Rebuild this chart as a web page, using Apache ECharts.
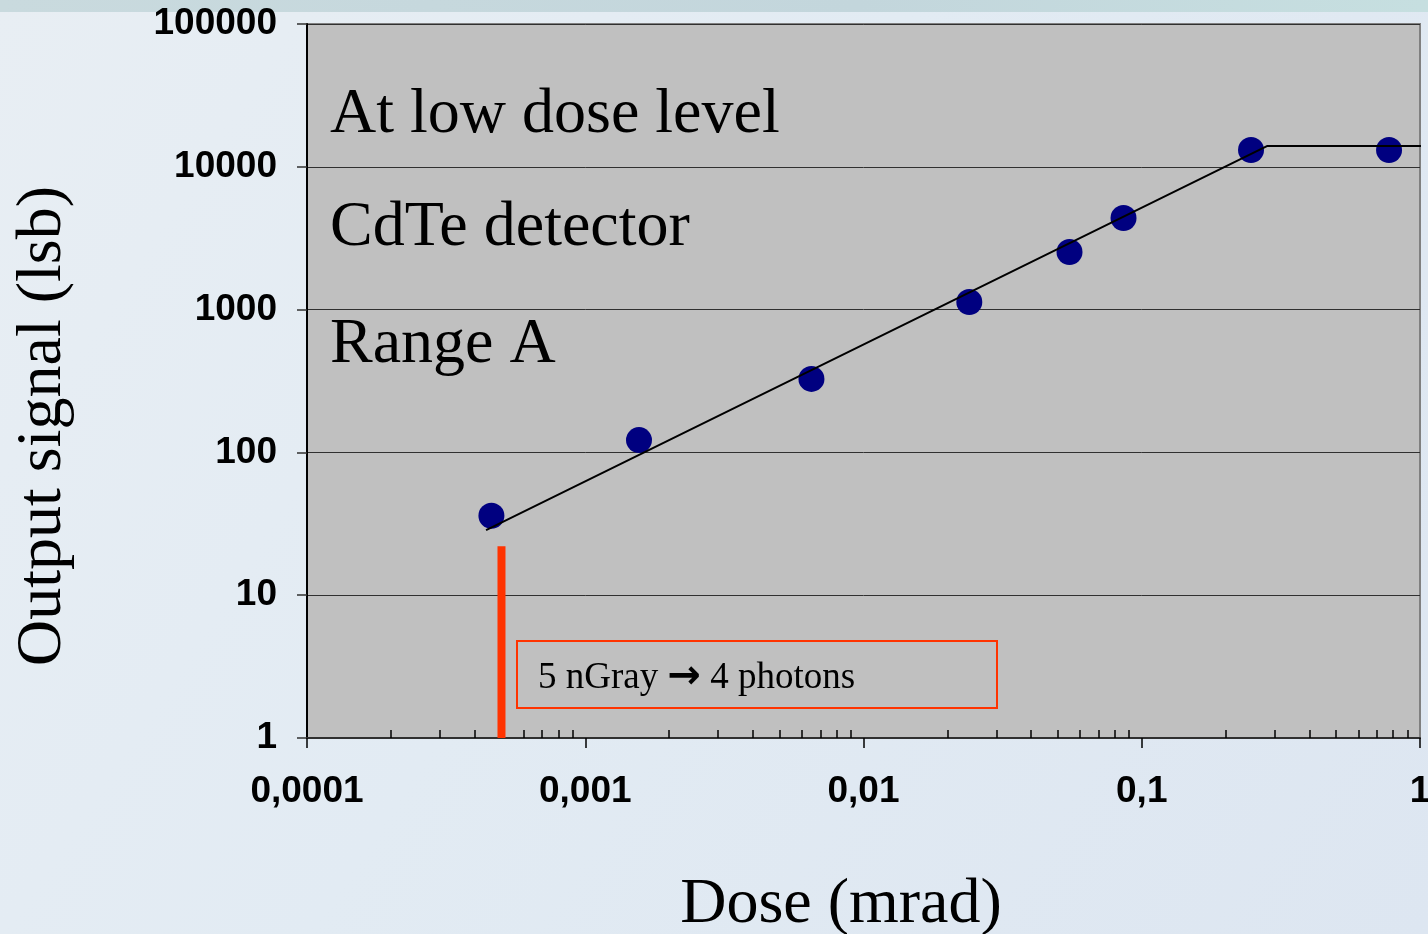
<!DOCTYPE html>
<html>
<head>
<meta charset="utf-8">
<title>CdTe detector – output signal vs dose</title>
<script src="https://cdn.jsdelivr.net/npm/echarts@6/dist/echarts.min.js"></script>
<style>
  html, body { margin: 0; padding: 0; }
  #chart { width: 1428px; height: 934px; }
</style>
</head>
<body>
<div id="chart"></div>
<script>
// Measured dose (mrad) and output signal (lsb)
const doseMrad = [0.00046, 0.00156, 0.0065, 0.024, 0.055, 0.086, 0.247, 0.774];
const signalLsb = [36, 122, 327, 1130, 2530, 4380, 13100, 13100];

// Linear-response fit with saturation plateau
const fitDose = [0.00044, 0.283, 1.07];
const fitSignal = [28.6, 14000, 14000];

// Detection threshold marker (5 nGray)
const thresholdDose = [0.0005, 0.0005];
const thresholdSignal = [1, 22];

// Axis tick labels, one per decade
const xTickLabels = ['0,0001', '0,001', '0,01', '0,1', '1'];
const yTickLabels = ['1', '10', '100', '1000', '10000', '100000'];

const pairs = (xs, ys) => xs.map((x, i) => [x, ys[i]]);

// Minor tick positions 2..9 within each dose decade
const minorTicks = [];
[0.0001, 0.001, 0.01, 0.1].forEach(d => {
  for (let k = 2; k <= 9; k++) minorTicks.push(d * k);
});

const decadeIndex = v => Math.round(Math.log10(v));

const chart = echarts.init(document.getElementById('chart'));

const tickFont = {
  fontFamily: '"Liberation Sans", Arial, sans-serif',
  fontWeight: 'bold',
  fontSize: 37,
  color: '#000'
};
const serif = '"Liberation Serif", "Times New Roman", serif';

chart.setOption({
  animation: false,
  backgroundColor: {
    type: 'linear', x: 0, y: 0, x2: 1, y2: 1,
    colorStops: [
      { offset: 0, color: '#e8eef3' },
      { offset: 0.45, color: '#e2ebf3' },
      { offset: 1, color: '#dde6f1' }
    ]
  },
  grid: {
    left: 307, right: 8, top: 24, bottom: 196,
    show: true,
    backgroundColor: '#c0c0c0',
    borderColor: '#808080',
    borderWidth: 2,
    outerBoundsMode: 'none',
    containLabel: false
  },
  xAxis: [
    {
      type: 'log',
      logBase: 10,
      min: 0.0001,
      max: 1,
      position: 'bottom',
      axisLine: { show: true, lineStyle: { color: '#303030', width: 2 } },
      axisTick: { show: true, inside: false, length: 10, lineStyle: { color: '#000', width: 1.5 } },
      axisLabel: {
        ...tickFont,
        margin: 35,
        formatter: v => xTickLabels[decadeIndex(v) + 4]
      },
      splitLine: { show: false }
    },
    {
      type: 'log',
      logBase: 10,
      min: 0.0001,
      max: 1,
      position: 'bottom',
      axisLine: { show: false },
      axisTick: {
        show: true, inside: true, length: 8,
        customValues: minorTicks,
        lineStyle: { color: '#000', width: 1.5 }
      },
      axisLabel: { show: false },
      splitLine: { show: false }
    }
  ],
  yAxis: {
    type: 'log',
    logBase: 10,
    min: 1,
    max: 100000,
    axisLine: { show: true, lineStyle: { color: '#000', width: 2 } },
    axisTick: { show: true, inside: false, length: 10, lineStyle: { color: '#303030', width: 1.5 } },
    axisLabel: {
      ...tickFont,
      margin: 30,
      padding: [4, 0, 0, 0],
      formatter: v => yTickLabels[decadeIndex(v)]
    },
    splitLine: { show: true, lineStyle: { color: '#303030', width: 1 } }
  },
  series: [
    {
      name: 'Threshold',
      type: 'line',
      data: pairs(thresholdDose, thresholdSignal),
      symbol: 'none',
      lineStyle: { color: '#ff3300', width: 8, cap: 'butt' },
      z: 3
    },
    {
      name: 'Measured',
      type: 'scatter',
      data: pairs(doseMrad, signalLsb),
      symbol: 'circle',
      symbolSize: 26,
      itemStyle: { color: '#000080', opacity: 1 },
      z: 4
    },
    {
      name: 'Fit',
      type: 'line',
      data: pairs(fitDose, fitSignal),
      symbol: 'none',
      clip: false,
      lineStyle: { color: '#000', width: 2 },
      z: 5
    }
  ],
  graphic: [
    // darker band across the top of the slide
    {
      type: 'rect', z: -10, silent: true,
      shape: { x: 0, y: 0, width: 1428, height: 12 },
      style: {
        fill: {
          type: 'linear', x: 0, y: 0, x2: 1, y2: 0,
          colorStops: [
            { offset: 0, color: '#c9dade' },
            { offset: 0.6, color: '#c3d6dc' },
            { offset: 1, color: '#c6dfe0' }
          ]
        }
      }
    },
    {
      type: 'text', x: 330, y: 115,
      style: { text: 'At low dose level', font: '64px ' + serif, fill: '#000', verticalAlign: 'middle', align: 'left' }
    },
    {
      type: 'text', x: 330, y: 228,
      style: { text: 'CdTe detector', font: '64px ' + serif, fill: '#000', verticalAlign: 'middle', align: 'left' }
    },
    {
      type: 'text', x: 330, y: 345,
      style: { text: 'Range A', font: '64px ' + serif, fill: '#000', verticalAlign: 'middle', align: 'left' }
    },
    {
      type: 'rect',
      shape: { x: 517, y: 641, width: 480, height: 67 },
      style: { fill: 'none', stroke: '#ff3300', lineWidth: 2 }
    },
    {
      type: 'text', x: 538, y: 678,
      style: {
        text: '5 nGray {a|\u2192} 4 photons',
        font: '37px ' + serif, fill: '#000', verticalAlign: 'middle', align: 'left',
        rich: {
          a: { fontFamily: '"DejaVu Sans", sans-serif', fontWeight: 'bold', fontSize: 40, fill: '#000' }
        }
      }
    },
    {
      type: 'text', x: 43, y: 426, rotation: Math.PI / 2,
      style: { text: 'Output signal (lsb)', font: '64px ' + serif, fill: '#000', verticalAlign: 'middle', align: 'center' }
    },
    {
      type: 'text', x: 841, y: 905,
      style: { text: 'Dose (mrad)', font: '64px ' + serif, fill: '#000', verticalAlign: 'middle', align: 'center' }
    }
  ]
});
</script>
</body>
</html>
